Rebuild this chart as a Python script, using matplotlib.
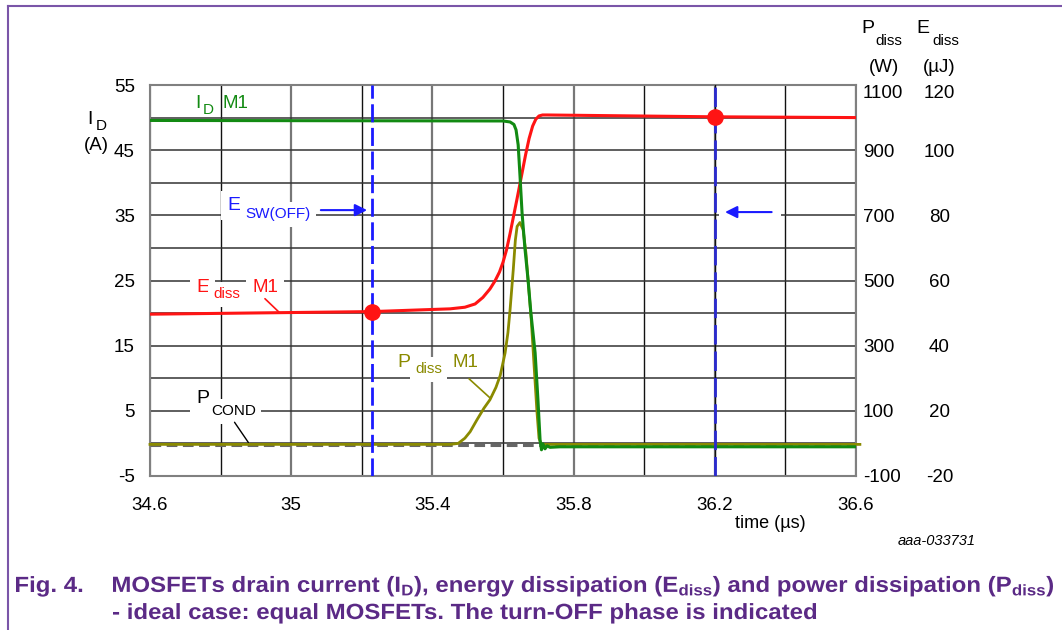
import matplotlib
matplotlib.use("Agg")
import matplotlib.pyplot as plt
import matplotlib.transforms as mtransforms
from matplotlib.lines import Line2D
from matplotlib.patches import Rectangle, PathPatch
from matplotlib.textpath import TextPath
from matplotlib.font_manager import FontProperties

plt.rcParams['font.family'] = ['Liberation Sans', 'DejaVu Sans']
plt.rcParams['axes.unicode_minus'] = False
plt.rcParams['mathtext.fontset'] = 'custom'
plt.rcParams['mathtext.rm'] = 'Liberation Sans'
plt.rcParams['mathtext.it'] = 'Liberation Sans:italic'
plt.rcParams['mathtext.bf'] = 'Liberation Sans:bold'

# drain current of M1 (A) vs time (us)
t_id = [34.600, 35.600, 35.620, 35.631, 35.637, 35.643, 35.648, 35.654, 35.662,
        35.671, 35.679, 35.691, 35.699, 35.705, 35.709, 35.713, 35.719, 35.725,
        35.733, 35.761, 36.600]
i_d = [49.56, 49.48, 49.33, 48.94, 48.10, 45.80, 41.20, 35.37, 30.00,
       25.09, 20.03, 13.90, 6.69, 0.55, -0.98, -0.06, -0.83, -0.37,
       -0.60, -0.52, -0.52]

# dissipated energy of M1, in left-axis units
t_e = [34.600, 35.229, 35.450, 35.492, 35.521, 35.543, 35.563, 35.577, 35.590,
       35.600, 35.610, 35.620, 35.630, 35.640, 35.654, 35.664, 35.674, 35.684,
       35.693, 35.702, 35.712, 35.725, 36.198, 36.600]
e_diss = [19.83, 20.23, 20.65, 20.90, 21.40, 22.40, 23.70, 24.90, 26.30,
          27.80, 29.70, 32.20, 34.90, 37.60, 41.50, 44.30, 46.80, 48.70,
          49.75, 50.25, 50.40, 50.40, 50.12, 50.00]

# dissipated power of M1, in left-axis units
t_p = [34.600, 35.450, 35.473, 35.492, 35.507, 35.526, 35.546, 35.563, 35.580,
       35.592, 35.606, 35.614, 35.620, 35.629, 35.635, 35.640, 35.648, 35.657,
       35.665, 35.671, 35.680, 35.688, 35.696, 35.702, 35.708, 36.611]
p_diss = [-0.15, -0.15, 0.00, 0.80, 1.80, 3.60, 5.40, 6.70, 8.60,
          10.40, 13.90, 17.00, 20.50, 26.60, 31.20, 33.30, 33.90, 32.80,
          29.20, 25.10, 19.00, 12.00, 5.00, 0.80, -0.15, -0.15]

# conduction loss level
t_cond = [34.6, 36.6]
p_cond = [-0.25, -0.25]

# switching-off energy window
t_sw = [35.23, 36.2]
e_sw = [20.2, 50.1]

y_ticks = [55, 45, 35, 25, 15, 5, -5]
p_labels = ['1100', '900', '700', '500', '300', '100', '-100']
e_labels = ['120', '100', '80', '60', '40', '20', '-20']
x_ticks = [34.6, 35.0, 35.4, 35.8, 36.2, 36.6]
x_labels = ['34.6', '35', '35.4', '35.8', '36.2', '36.6']

GREEN = '#128a12'
RED = '#ff1414'
OLIVE = '#8a8a00'
BLUE = '#1a1aff'
PURPLE = '#5b2a86'
TICK_SIZE = 13.5
MAIN = 14     # main letter of a symbol
SUB = 11      # its subscript

W, H = 1062, 630
fig = plt.figure(figsize=(W / 100, H / 100), dpi=100)
ax = fig.add_axes([150 / W, 1 - 476 / H, 706 / W, 391 / H])
ax.set_xlim(34.6, 36.6)
ax.set_ylim(-5, 55)


def px(x, y):
    """pixel position (from top-left) -> figure fraction"""
    return x / W, 1 - y / H


def piece_label(parts, color, box=True, target=ax, z=3):
    """draw a label made of separately placed pieces: (text, x, baseline, size)"""
    kw = dict(color=color, va='baseline', zorder=z)
    if box:
        kw['bbox'] = dict(facecolor='white', edgecolor='none', pad=4)
    for s, x, y, size in parts:
        if target is fig:
            fig.text(*px(x, y), s, fontsize=size, **kw)
        else:
            target.text(*px(x, y), s, fontsize=size, transform=fig.transFigure, **kw)


# grid
ax.set_xticks(x_ticks)
ax.set_xticks([34.8, 35.2, 35.6, 36.0, 36.4], minor=True)
ax.set_yticks(y_ticks)
ax.set_yticks([0, 10, 20, 30, 40, 50], minor=True)
ax.grid(which='major', axis='x', color='#777777', lw=1.6)
ax.grid(which='minor', axis='x', color='#111111', lw=1.0)
ax.grid(which='both', axis='y', color='#333333', lw=1.1)
ax.set_axisbelow(True)
ax.set_xticklabels(x_labels, fontsize=TICK_SIZE)
ax.tick_params(which='both', length=0)
ax.tick_params(axis='x', pad=15)
ax.tick_params(axis='y', pad=11, labelsize=TICK_SIZE)
for s in ax.spines.values():
    s.set_color('#808080')
    s.set_linewidth(1.5)

# right-hand scales
ax_p = ax.twinx()
ax_p.set_ylim(ax.get_ylim())
ax_p.set_yticks(y_ticks)
ax_p.set_yticklabels(p_labels, fontsize=TICK_SIZE)
ax_p.tick_params(length=0, pad=5)
ax_p.spines[:].set_visible(False)
ax_p.get_yticklabels()[0].set_verticalalignment('top')

ax_e = ax.twinx()
ax_e.set_ylim(ax.get_ylim())
ax_e.set_yticks(y_ticks)
ax_e.set_yticklabels(e_labels, fontsize=TICK_SIZE)
ax_e.tick_params(length=0, pad=60)
for lb in ax_e.get_yticklabels():
    lb.set_horizontalalignment('center')
ax_e.get_yticklabels()[0].set_verticalalignment('top')
ax_e.spines[:].set_visible(False)

# curves
ax.plot(t_cond, p_cond, color='#666666', lw=2.2, ls=(0, (3.5, 1.8)), zorder=3)
ax.plot(t_p, p_diss, color=OLIVE, lw=2.0, zorder=4, clip_on=False)
ax.plot(t_e, e_diss, color=RED, lw=2.2, zorder=5)
ax.plot(t_id, i_d, color=GREEN, lw=2.2, zorder=6)

# turn-off window markers
ax.axvline(t_sw[0], color=BLUE, lw=2.0, ls=(0, (6.5, 2)), zorder=7)
ax.axvline(t_sw[1], color='#111111', lw=1.0, zorder=6)
ax.axvline(t_sw[1], color='#2a2ad0', lw=2.0, ls=(0, (7, 2.5)), zorder=7)
ax.plot(t_sw, e_sw, 'o', color=RED, ms=11, zorder=8)

arrow = dict(arrowstyle='-|>', color=BLUE, lw=1.5, mutation_scale=18,
             shrinkA=0, shrinkB=0)

# curve labels
piece_label([('I', 195, 108, MAIN), ('D', 203, 114, SUB), ('M1', 222, 108, 13.5)],
            GREEN, box=False)
piece_label([('E', 227, 210, MAIN), ('SW(OFF)', 245, 218, SUB)], BLUE)
ax.annotate('', xy=(35.215, 35.8), xytext=(35.084, 35.8), arrowprops=arrow, zorder=5)
ax.add_patch(Rectangle((36.212, 34.0), 0.175, 3.0, fc='white', ec='none', zorder=2))
ax.annotate('', xy=(36.229, 35.5), xytext=(36.361, 35.5), arrowprops=arrow, zorder=5)

piece_label([('E', 196, 292, MAIN), ('diss', 213, 298, SUB), ('M1', 252, 292, 13.5)], RED)
ax.annotate('', xy=(34.974, 19.7), xytext=(34.92, 22.5),
            arrowprops=dict(arrowstyle='-', color=RED, lw=1.2), zorder=5)

piece_label([('P', 196, 403, MAIN), ('COND', 211, 415, SUB)], 'black')
ax.annotate('', xy=(34.883, -0.2), xytext=(34.835, 3.6),
            arrowprops=dict(arrowstyle='-', color='black', lw=1.0), zorder=5)

piece_label([('P', 397, 367, MAIN), ('diss', 415, 373, SUB), ('M1', 453, 367, 13.5)], OLIVE)
ax.annotate('', xy=(35.569, 6.7), xytext=(35.498, 10.2),
            arrowprops=dict(arrowstyle='-', color=OLIVE, lw=1.2), zorder=5)

# axis titles
piece_label([('I', 87, 124, MAIN), ('D', 96, 130, SUB)], 'black', box=False, target=fig)
fig.text(*px(96, 145), '(A)', fontsize=13.5, va='center', ha='center')
piece_label([('P', 861, 33, MAIN), ('diss', 875, 45, SUB)], 'black', box=False, target=fig)
piece_label([('E', 916, 33, MAIN), ('diss', 932, 45, SUB)], 'black', box=False, target=fig)
fig.text(*px(884, 67), '(W)', fontsize=13.5, va='center', ha='center')
fig.text(*px(939, 67), '(µJ)', fontsize=13.5, va='center', ha='center')
fig.text(*px(770, 524), 'time (µs)', fontsize=13, va='center', ha='center')
fig.text(*px(937, 541), 'aaa-033731', fontsize=10.5, style='italic',
         va='center', ha='center')

# caption, set in a horizontally condensed bold face
cap_font = FontProperties(family='Liberation Sans', weight='bold')


def caption_text(s, x0, base, sx=None, width=None, em=22.0):
    tp = TextPath((0, 0), s, size=em, prop=cap_font)
    ext = tp.get_extents()
    if sx is None:
        sx = width / ext.width
    tr = (mtransforms.Affine2D().translate(-ext.x0, 0).scale(sx, 1)
          .translate(x0, H - base).scale(1 / W, 1 / H) + fig.transFigure)
    fig.add_artist(PathPatch(tp, transform=tr, fc=PURPLE, ec='none', lw=0))
    return sx


sx = caption_text(r'MOSFETs drain current (I$_{\mathbf{D}}$), energy dissipation '
                  r'(E$_{\mathbf{diss}}$) and power dissipation (P$_{\mathbf{diss}}$)',
                  113, 592, width=940)
caption_text('- ideal case: equal MOSFETs. The turn-OFF phase is indicated', 113, 619, sx=sx)
caption_text('Fig. 4.', 16, 592, sx=sx)

# frame
fig.add_artist(Line2D([8 / W, 8 / W], [0, 1 - 6 / H], color='#7a55a8', lw=1.5))
fig.add_artist(Line2D([8 / W, 1], [1 - 6 / H, 1 - 6 / H], color='#7a55a8', lw=1.5))

fig.savefig('out.png', dpi=100)
